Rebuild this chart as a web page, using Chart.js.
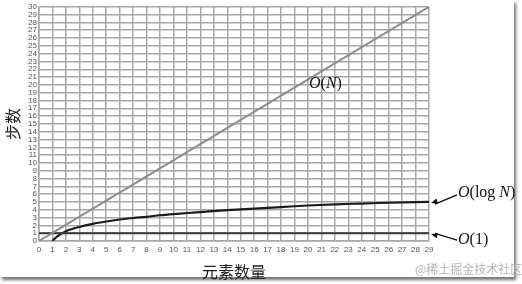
<!DOCTYPE html>
<html>
<head>
<meta charset="utf-8">
<script src="https://cdn.jsdelivr.net/npm/chart.js@4"></script>
<style>
  body { margin: 0; background: #fff; }
  #frame { position: absolute; left: 0; top: 0; width: 514px; height: 277px; background: #fff;
           box-shadow: 2px 3px 3px rgba(0,0,0,0.55); }
  #myChart { position: absolute; left: 0; top: 0; }
  .note { position: absolute; font-family: "Liberation Serif", serif; font-size: 16px; color: #111; white-space: nowrap; }
  .note i { font-style: italic; }
  #mark { position: absolute; left: 415px; top: 260px; font-family: "Noto Sans CJK SC", sans-serif;
          font-size: 12px; color: #b5b5b5; white-space: nowrap; }
</style>
</head>
<body>
<div id="frame"></div>
<canvas id="myChart" width="522" height="284"></canvas>
<div class="note" style="left:309px; top:74px;"><i>O</i>(<i>N</i>)</div>
<div class="note" style="left:458px; top:183px;"><i>O</i>(log <i>N</i>)</div>
<div class="note" style="left:458px; top:230px;"><i>O</i>(1)</div>
<div id="mark">@稀土掘金技术社区</div>
<script>
// values
const nLinear = [0, 29];
const stepsLinear = [0, 30];
const nConst = [0, 29];
const stepsConst = [1, 1];
const nLog = [1, 1.2, 1.5, 2, 3, 4, 5, 6, 7, 8, 9, 10, 12, 14, 16, 18, 20, 22, 24, 26, 29];
const stepsLog = [0, 0.35, 0.75, 1.25, 1.8, 2.2, 2.5, 2.75, 2.95, 3.1, 3.3, 3.45, 3.7, 3.95, 4.15, 4.35, 4.55, 4.7, 4.8, 4.9, 5.0];
const xMax = 29;
const yMax = 30;

function pts(xs, ys) {
    return xs.map((x, i) => ({ x: x, y: ys[i] }));
}

// little arrows from the labels to the line ends
const arrows = {
    id: 'arrows',
    afterDatasetsDraw(chart) {
        const c = chart.ctx;
        const xs = chart.scales.x, ys = chart.scales.y;
        const hx = xs.getPixelForValue(xMax) + 2;
        const heads = [
            [hx, ys.getPixelForValue(stepsLog[stepsLog.length - 1]) + 1, 26, -8],
            [hx, ys.getPixelForValue(stepsConst[1]) + 1, 26, 6]
        ];
        c.save();
        c.strokeStyle = '#111';
        c.fillStyle = '#111';
        c.lineWidth = 1.3;
        heads.forEach(([x, y, dx, dy]) => {
            c.beginPath();
            c.moveTo(x + dx, y + dy);
            c.lineTo(x + 4, y - dy * 4 / dx);
            c.stroke();
            const a = Math.atan2(-dy, -dx);
            c.beginPath();
            c.moveTo(x, y);
            c.lineTo(x - 7 * Math.cos(a - 0.4), y - 7 * Math.sin(a - 0.4));
            c.lineTo(x - 7 * Math.cos(a + 0.4), y - 7 * Math.sin(a + 0.4));
            c.closePath();
            c.fill();
        });
        c.restore();
    }
};

const ctx = document.getElementById('myChart');
const chart = new Chart(ctx, {
    type: 'line',
    data: {
        datasets: [{
            label: 'O(N)',
            data: pts(nLinear, stepsLinear),
            borderColor: '#8e8e8e',
            borderWidth: 2,
            pointRadius: 0
        }, {
            label: 'O(1)',
            data: pts(nConst, stepsConst),
            borderColor: '#3a3a3a',
            borderWidth: 2,
            pointRadius: 0
        }, {
            label: 'O(log N)',
            data: pts(nLog, stepsLog),
            borderColor: '#1c1c1c',
            borderWidth: 2.2,
            pointRadius: 0,
            cubicInterpolationMode: 'monotone'
        }]
    },
    options: {
        responsive: false,
        animation: false,
        devicePixelRatio: 1,
        layout: {
            padding: { left: 3, top: 5, right: 93, bottom: 2 }
        },
        plugins: {
            legend: { display: false },
            tooltip: { enabled: false }
        },
        scales: {
            x: {
                type: 'linear',
                min: 0,
                max: xMax,
                afterFit(scale) { scale.height = 41; },
                ticks: {
                    stepSize: 1,
                    autoSkip: false,
                    maxRotation: 0,
                    padding: 4,
                    color: '#555',
                    font: { family: 'Liberation Sans', size: 8 }
                },
                grid: { color: '#a8a8a8', lineWidth: 1.5, drawTicks: false },
                border: { color: '#a8a8a8', width: 1.5 },
                title: {
                    display: true,
                    text: '元素数量',
                    color: '#222',
                    padding: 0,
                    font: { family: 'Noto Sans CJK SC', size: 16 }
                }
            },
            y: {
                min: 0,
                max: yMax,
                afterFit(scale) { scale.width = 36; },
                ticks: {
                    stepSize: 1,
                    autoSkip: false,
                    padding: 2,
                    color: '#555',
                    font: { family: 'Liberation Sans', size: 8 }
                },
                grid: { color: '#a8a8a8', lineWidth: 1.5, drawTicks: false },
                border: { color: '#a8a8a8', width: 1.5 },
                title: {
                    display: true,
                    text: '步数',
                    color: '#222',
                    padding: 0,
                    font: { family: 'Noto Sans CJK SC', size: 16 }
                }
            }
        }
    },
    plugins: [arrows]
});
</script>
</body>
</html>
